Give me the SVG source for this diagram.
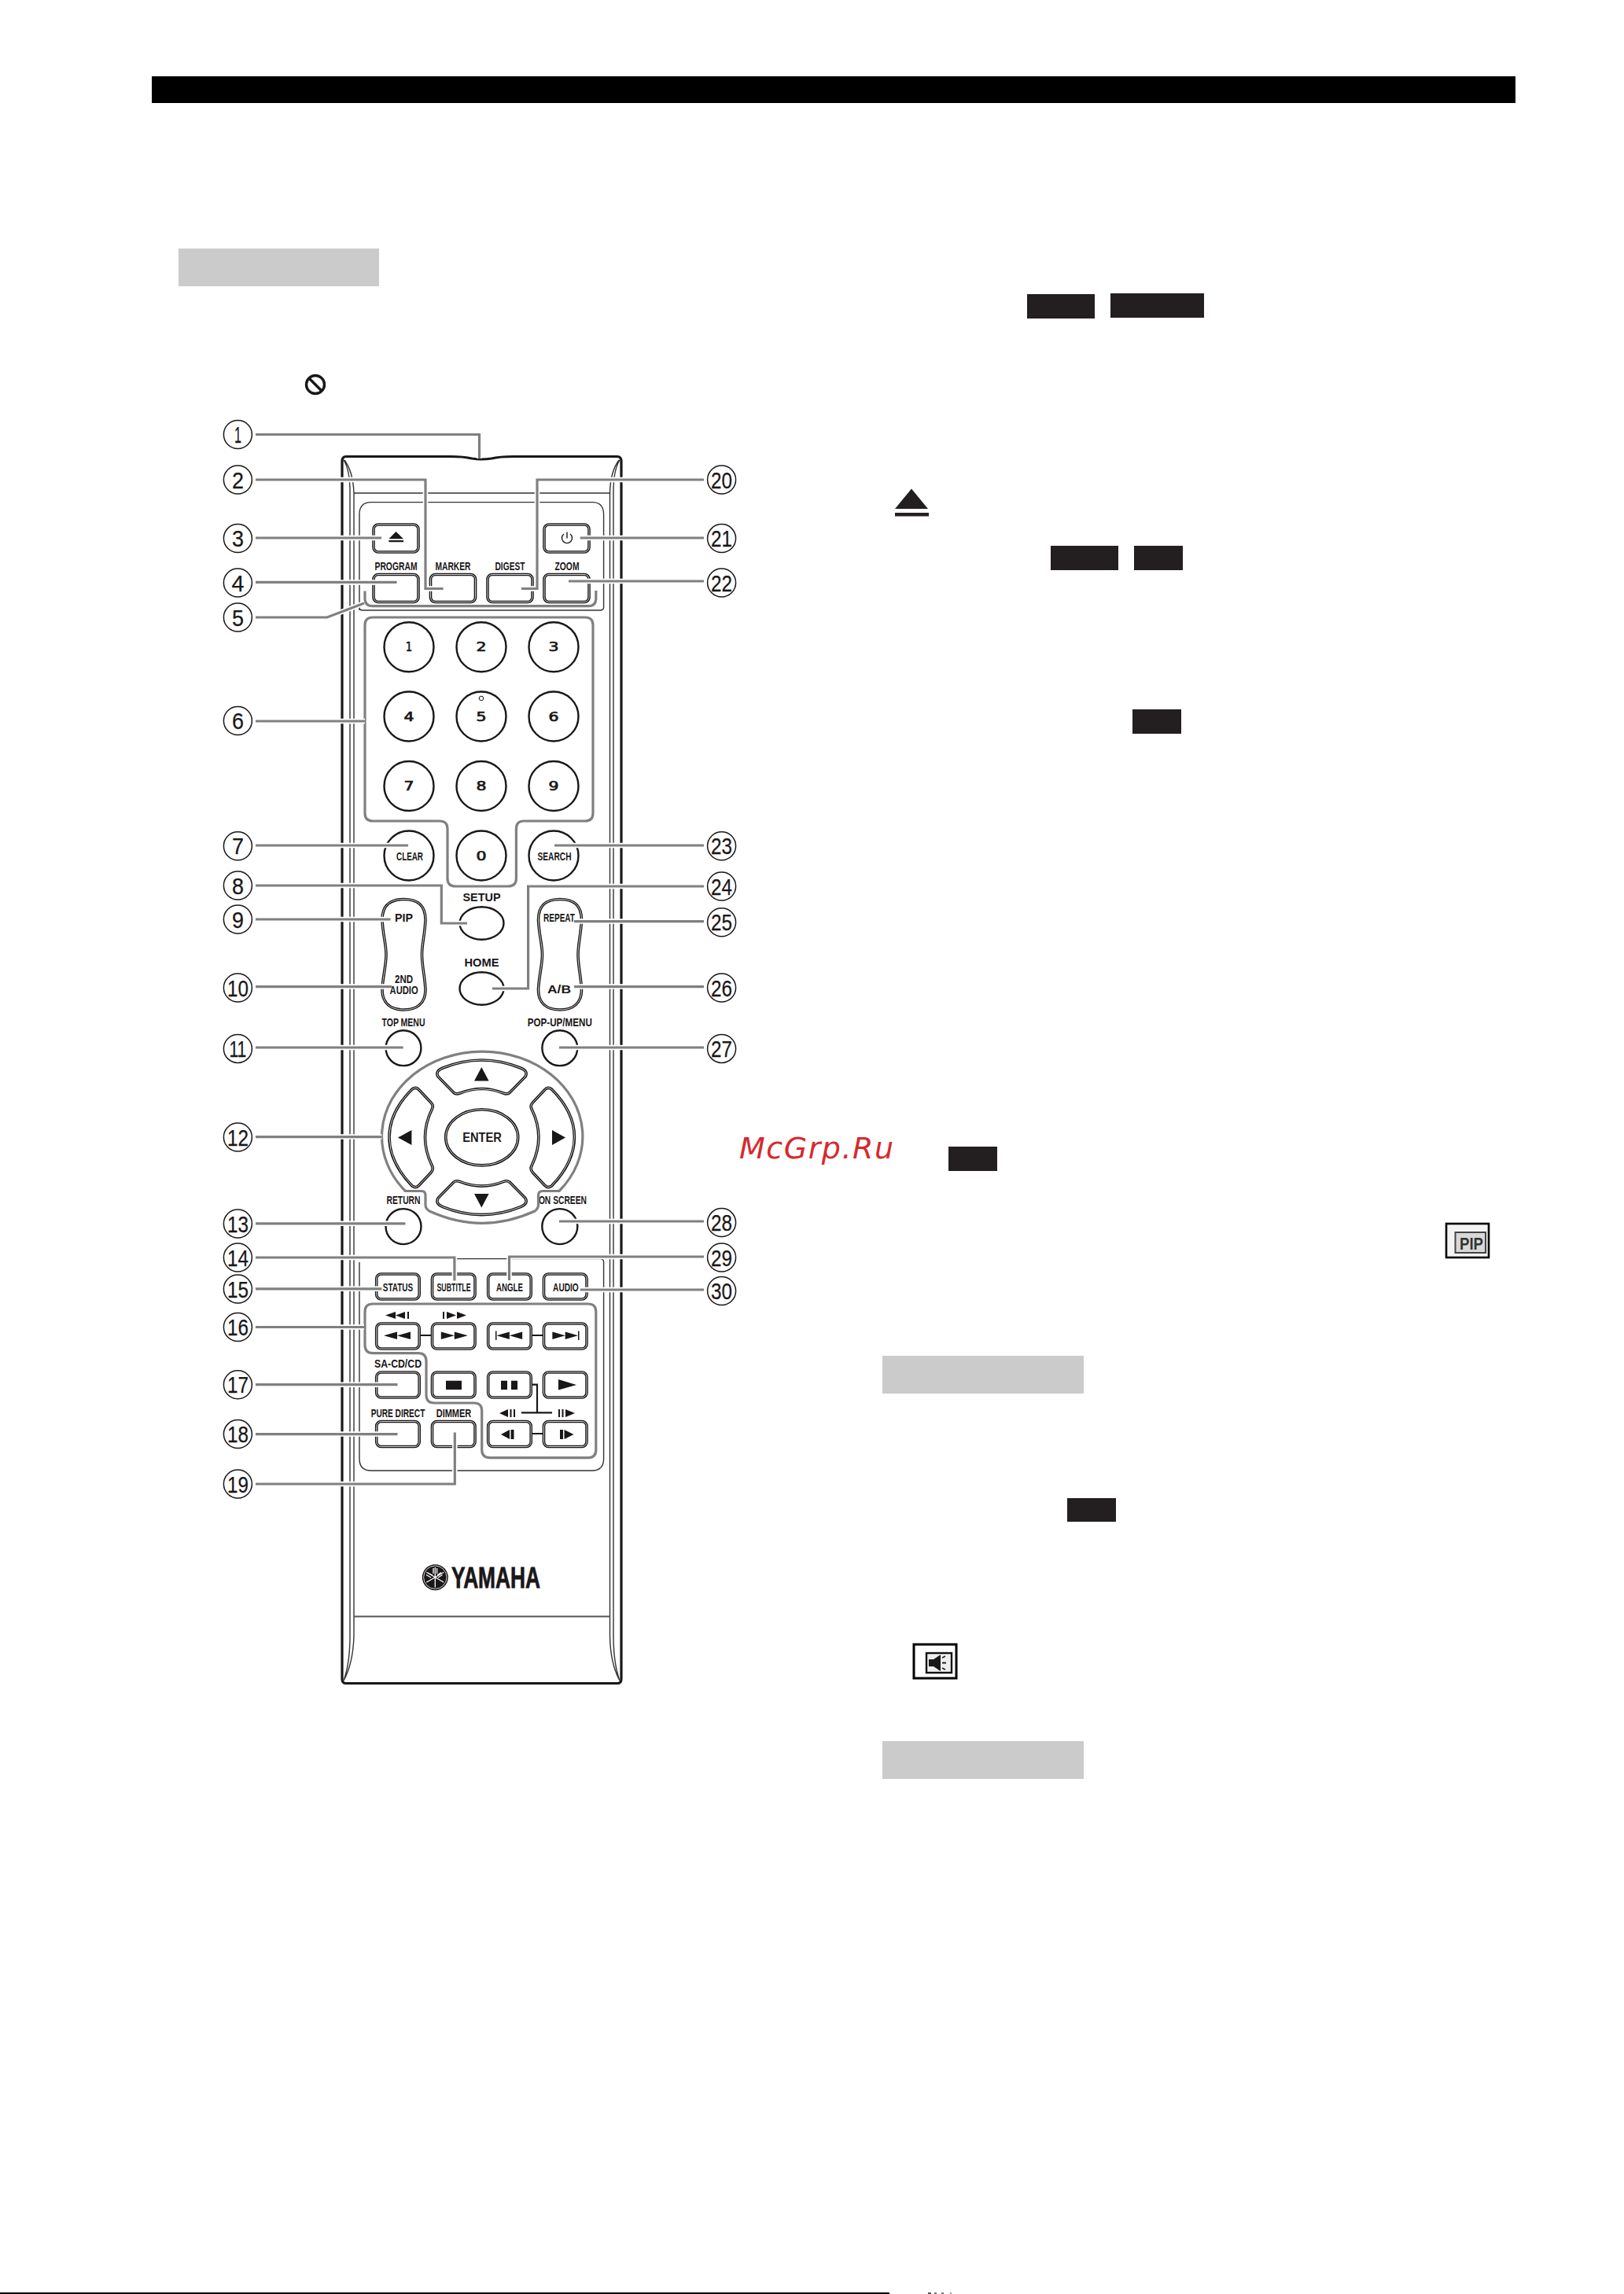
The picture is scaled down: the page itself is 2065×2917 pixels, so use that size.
<svg xmlns="http://www.w3.org/2000/svg" xmlns:xlink="http://www.w3.org/1999/xlink" width="2065" height="2917" viewBox="0 0 2065 2917">
<style>
text{fill:#1a1718}
.n{font-family:"Liberation Sans Narrow","Liberation Sans",sans-serif;font-weight:bold;font-size:15px;text-anchor:middle}
.a{font-family:"Liberation Sans",Arial,sans-serif;font-weight:bold;font-size:15px;text-anchor:middle}
.d{font-family:"DejaVu Sans",sans-serif;font-size:15px;text-anchor:middle;stroke:#1a1718;stroke-width:.7}
.c{font-family:"Liberation Sans Narrow","Liberation Sans",sans-serif;font-size:30px;text-anchor:middle;stroke:#1a1718;stroke-width:.25}
.cc{fill:#fff;stroke:#1a1718;stroke-width:1.5}
.o{fill:none;stroke:#1a1718;stroke-width:3.6}
.i{fill:none;stroke:#fff;stroke-width:.8}
.s{fill:#fff;stroke:#1a1718;stroke-width:2.4}
.g{fill:none;stroke:#808080;stroke-width:3.2;stroke-linejoin:round}
.thin{fill:none;stroke:#333;stroke-width:1.4}
.k{fill:#1a1718}
.blk{fill:#231f20}
.gr{fill:#cbcbcb}
.halo{fill:none;stroke:#fff;stroke-width:6.5}
.lead{fill:none;stroke:#808080;stroke-width:3.2;stroke-linejoin:miter}
.con{fill:none;stroke:#1a1718;stroke-width:2.2}
</style>
<defs>
<g id="kw"><rect width="57" height="35" rx="6" class="o"/><rect width="57" height="35" rx="6" class="i"/></g>
<g id="kn"><rect width="54.5" height="32" rx="6" class="o"/><rect width="54.5" height="32" rx="6" class="i"/></g>
<path id="shUp" d="M563,1358 Q612.7,1338 662,1358 Q672,1362 668,1369 L648,1389.5 Q645,1392 640,1390 Q612.7,1379 585,1390 Q580,1392 577,1389.5 L557,1369 Q553,1362 563,1358 Z"/>
<path id="shLeft" d="M524,1385 Q529,1381 533,1386 L548,1402 Q552,1406 549,1411 Q532,1446 549,1481.500 Q552,1486.500 548,1491 L533,1507 Q529,1511.500 524,1508 Q495,1478 495,1446 Q495,1414 524,1385 Z"/>
<path id="shPill" d="M513.5,1143.500 C530,1143.500 541,1150 541,1170 C540,1190 536.500,1200 536.500,1214 C536.500,1228 540,1240 541,1258 C541,1276 530,1284 513.500,1284 C497,1284 486,1276 486,1258 C487,1240 491,1228 491,1214 C491,1200 487,1190 486,1170 C486,1150 497,1143.500 513.500,1143.500 Z"/>
<path id="tri2" d="M0,4.800 L17,0 V9.600 Z M17,4.800 L34,0 V9.600 Z"/>
</defs>

<rect width="2065" height="2917" fill="#fff"/>
<g id="page">
<rect x="193" y="97" width="1734" height="34" fill="#000"/>
<rect x="0" y="2915" width="1131" height="2" fill="#000"/>
<rect x="1180" y="2915" width="4" height="2" fill="#555"/><rect x="1188" y="2915" width="3" height="2" fill="#777"/><rect x="1197" y="2915" width="3" height="2" fill="#777"/><rect x="1208" y="2915" width="2" height="2" fill="#999"/>
<rect class="gr" x="227" y="316" width="255" height="48"/>
<rect class="gr" x="1122" y="1724" width="256" height="48"/>
<rect class="gr" x="1122" y="2214" width="256" height="48"/>
<rect class="blk" x="1306" y="374" width="86" height="31"/>
<rect class="blk" x="1412" y="373" width="119" height="31"/>
<rect class="blk" x="1336" y="694" width="86" height="31"/>
<rect class="blk" x="1442" y="694" width="62" height="31"/>
<rect class="blk" x="1440" y="902" width="62" height="31"/>
<rect class="blk" x="1206" y="1458" width="62" height="31"/>
<rect class="blk" x="1357" y="1905" width="62" height="30"/>
<g id="no-symbol"><circle cx="401" cy="489" r="11.500" fill="none" stroke="#1a1718" stroke-width="3.400"/><path d="M393,481 L409,497" stroke="#1a1718" stroke-width="3.400"/></g>
<g id="eject-symbol"><path class="blk" d="M1159,621.500 L1180,647 H1138 Z"/><rect class="blk" x="1138" y="652" width="43" height="4.500"/></g>
<g id="pip-icon"><rect x="1839" y="1556" width="54" height="43" fill="#f4f4f4" stroke="#000" stroke-width="2.600"/><rect x="1850.500" y="1567" width="38.500" height="26" fill="#d8d8d8" stroke="#444" stroke-width="2"/><text x="1871" y="1589" font-family="Liberation Sans,sans-serif" font-weight="bold" font-size="22" text-anchor="middle" textLength="30" lengthAdjust="spacingAndGlyphs" style="fill:#333">PIP</text></g>
<g id="audio-icon"><rect x="1162" y="2091" width="54" height="43" fill="#fff" stroke="#000" stroke-width="3"/><rect x="1178" y="2102" width="32" height="25" fill="#eee" stroke="#111" stroke-width="2.400"/><path class="k" d="M1181,2110 H1187 L1196,2104 V2125 L1187,2119 H1181 Z"/><path d="M1198,2108 l4,-2 M1198,2114.500 h5 M1198,2121 l4,2" stroke="#222" stroke-width="1.800"/></g>
<text x="940" y="1473" font-family="DejaVu Sans,sans-serif" font-style="italic" font-size="38" textLength="196" lengthAdjust="spacing" style="fill:#d8282e">McGrp.Ru</text>
</g>

<g id="remote-body">
<path d="M440,580.500 H572 Q590,580.500 600,583 Q612,585 625,583 Q635,580.500 653,580.500 H785 Q790,580.500 790,587 V2135 Q790,2140.500 785,2140.500 H440 Q435,2140.500 435,2135 V587 Q435,580.500 440,580.500 Z" fill="#fff" stroke="#1a1718" stroke-width="3.200"/>
<path class="thin" d="M437,585 Q445,598 445,625 V2080 Q445,2115 437,2137 M438,585 Q449,600 450,627 V2080 Q449,2115 437,2137"/>
<path class="thin" d="M788,585 Q780,598 780,625 V2080 Q780,2115 788,2137 M787,585 Q776,600 775.500,627 V2080 Q776,2115 788,2137"/>
<path class="thin" d="M450,627 H775.500"/>
<path d="M450,2055.500 H775.500" fill="none" stroke="#555" stroke-width="2"/>
<path class="thin" d="M457,776 V654 Q457,638.600 472,638.600 H753 Q767.600,638.600 767.600,654 V772 Q767.600,776 763,776 H461 Q457,776 457,772"/>
<path class="thin" d="M457,1605 V1855 Q457,1870 472,1870 H753 Q767.600,1870 767.600,1855 V1605 Q767.600,1600.600 763,1600.600 H581"/>
</g>

<g id="btn-eject"><use href="#kw" x="475" y="667"/><path class="k" d="M503.500,676 L513,685.300 H494.400 Z M494.400,687 H513 V689.300 H494.400 Z"/></g>
<g id="btn-power"><use href="#kw" x="692" y="667"/><path d="M717,679 A6.500,6.500 0 1 0 725,679 M721,676.500 V684.500" fill="none" stroke="#1a1718" stroke-width="1.400"/></g>
<g id="btn-program"><use href="#kw" x="475" y="730.500"/><text class="n" x="503.500" y="725" textLength="54" lengthAdjust="spacingAndGlyphs">PROGRAM</text></g>
<g id="btn-marker"><use href="#kw" x="547.500" y="730.500"/><text class="n" x="576" y="725" textLength="45" lengthAdjust="spacingAndGlyphs">MARKER</text></g>
<g id="btn-digest"><use href="#kw" x="620" y="730.500"/><text class="n" x="648.500" y="725" textLength="38" lengthAdjust="spacingAndGlyphs">DIGEST</text></g>
<g id="btn-zoom"><use href="#kw" x="692" y="730.500"/><text class="n" x="721" y="725" textLength="31" lengthAdjust="spacingAndGlyphs">ZOOM</text></g>

<g id="keypad">
<circle class="s" cx="520" cy="822.700" r="31.500"/><text class="d" x="520" y="828" textLength="8" lengthAdjust="spacingAndGlyphs">1</text>
<circle class="s" cx="612" cy="822.700" r="31.500"/><text class="d" x="612" y="828" textLength="13" lengthAdjust="spacingAndGlyphs">2</text>
<circle class="s" cx="704" cy="822.700" r="31.500"/><text class="d" x="704" y="828" textLength="13" lengthAdjust="spacingAndGlyphs">3</text>
<circle class="s" cx="520" cy="911" r="31.500"/><text class="d" x="520" y="916.500" textLength="13" lengthAdjust="spacingAndGlyphs">4</text>
<circle class="s" cx="612" cy="911" r="31.500"/><text class="d" x="612" y="916.500" textLength="13" lengthAdjust="spacingAndGlyphs">5</text>
<circle cx="612" cy="888" r="2.800" fill="#fff" stroke="#1a1718" stroke-width="1"/>
<circle class="s" cx="704" cy="911" r="31.500"/><text class="d" x="704" y="916.500" textLength="13" lengthAdjust="spacingAndGlyphs">6</text>
<circle class="s" cx="520" cy="999.500" r="31.500"/><text class="d" x="520" y="1005" textLength="13" lengthAdjust="spacingAndGlyphs">7</text>
<circle class="s" cx="612" cy="999.500" r="31.500"/><text class="d" x="612" y="1005" textLength="13" lengthAdjust="spacingAndGlyphs">8</text>
<circle class="s" cx="704" cy="999.500" r="31.500"/><text class="d" x="704" y="1005" textLength="13" lengthAdjust="spacingAndGlyphs">9</text>
<circle class="s" cx="612" cy="1088" r="31.500"/><text class="d" x="612" y="1093.500" textLength="13" lengthAdjust="spacingAndGlyphs">0</text>
</g>
<g id="btn-clear"><circle class="s" cx="520" cy="1088" r="31.500"/><text class="n" x="521" y="1094" textLength="34" lengthAdjust="spacingAndGlyphs">CLEAR</text></g>
<g id="btn-search"><circle class="s" cx="704" cy="1088" r="31.500"/><text class="n" x="705" y="1094" textLength="43" lengthAdjust="spacingAndGlyphs">SEARCH</text></g>
<g id="btn-setup"><text class="a" x="612.500" y="1146" textLength="48" lengthAdjust="spacingAndGlyphs">SETUP</text><ellipse class="s" cx="612.500" cy="1174" rx="28" ry="20.700"/></g>
<g id="btn-home"><text class="a" x="612.500" y="1229" textLength="44" lengthAdjust="spacingAndGlyphs">HOME</text><ellipse class="s" cx="612.500" cy="1257" rx="28" ry="20.700"/></g>
<g id="btn-pip"><use href="#shPill" class="o"/><use href="#shPill" class="i"/><text class="a" x="513.600" y="1172" textLength="23" lengthAdjust="spacingAndGlyphs">PIP</text><text class="n" x="513.600" y="1250" textLength="23" lengthAdjust="spacingAndGlyphs">2ND</text><text class="n" x="513.600" y="1264" textLength="36" lengthAdjust="spacingAndGlyphs">AUDIO</text></g>
<g id="btn-repeat"><use href="#shPill" x="198.500" class="o"/><use href="#shPill" x="198.500" class="i"/><text class="n" x="711" y="1172" textLength="40" lengthAdjust="spacingAndGlyphs">REPEAT</text><text class="a" x="711" y="1263.400" textLength="30" lengthAdjust="spacingAndGlyphs">A/B</text></g>
<g id="btn-topmenu"><text class="n" x="513" y="1304.700" textLength="55" lengthAdjust="spacingAndGlyphs">TOP MENU</text><circle class="s" cx="513" cy="1332.700" r="22.400"/></g>
<g id="btn-popup"><text class="n" x="711.800" y="1304.700" textLength="82" lengthAdjust="spacingAndGlyphs">POP-UP/MENU</text><circle class="s" cx="711.800" cy="1332.700" r="22.400"/></g>
<g id="btn-return"><text class="n" x="513" y="1531.300" textLength="43" lengthAdjust="spacingAndGlyphs">RETURN</text><circle class="s" cx="513" cy="1559.600" r="22.500"/></g>
<g id="btn-onscreen"><text class="n" x="715.400" y="1531.300" textLength="61" lengthAdjust="spacingAndGlyphs">ON SCREEN</text><circle class="s" cx="711.800" cy="1559.600" r="22.500"/></g>

<g id="dpad">
<path id="bracket-12" class="g" d="M515.400,1514.500 H536 Q541,1514.500 541,1520 V1532 Q541,1537 546,1540 Q580,1555.400 612.700,1555.400 Q646,1555.400 680,1540 Q684.500,1537 684.500,1532 V1520 Q684.500,1514.500 690,1514.500 H711 A127.700,108 0 1 0 515.400,1514.500 Z"/>
<use href="#shUp" class="o"/><use href="#shUp" class="i"/>
<g transform="translate(0 2892.600) scale(1 -1)"><use href="#shUp" class="o"/><use href="#shUp" class="i"/></g>
<use href="#shLeft" class="o"/><use href="#shLeft" class="i"/>
<g transform="translate(1225.400 0) scale(-1 1)"><use href="#shLeft" class="o"/><use href="#shLeft" class="i"/></g>
<ellipse class="o" cx="612.700" cy="1446.300" rx="46" ry="35.600"/><ellipse class="i" cx="612.700" cy="1446.300" rx="46" ry="35.600"/>
<text class="a" x="613" y="1452" style="font-size:16px" textLength="49.500" lengthAdjust="spacingAndGlyphs">ENTER</text>
<path class="k" d="M612.300,1357 L621.600,1374.400 H603 Z M612.300,1535.500 L621.600,1518 H603 Z M506,1446.500 L523.400,1437 V1456 Z M719,1446.500 L702,1437 V1456 Z"/>
</g>

<g id="btn-status"><use href="#kn" x="478.700" y="1620"/><text class="n" x="506" y="1641.800" textLength="38.400" lengthAdjust="spacingAndGlyphs">STATUS</text></g>
<g id="btn-subtitle"><use href="#kn" x="549.500" y="1620"/><text class="n" x="577" y="1641.800" textLength="43" lengthAdjust="spacingAndGlyphs">SUBTITLE</text></g>
<g id="btn-angle"><use href="#kn" x="620.700" y="1620"/><text class="n" x="648" y="1641.800" textLength="34" lengthAdjust="spacingAndGlyphs">ANGLE</text></g>
<g id="btn-audio"><use href="#kn" x="691.500" y="1620"/><text class="n" x="719.400" y="1641.800" textLength="32.600" lengthAdjust="spacingAndGlyphs">AUDIO</text></g>

<g id="transport">
<path class="con" d="M533,1698 H549.500 M675,1698 H691.500 M675,1823 H691.500 M675,1760.700 H683 V1796.400 M663,1796.400 H702"/>
<g id="btn-rev"><use href="#kn" x="478.700" y="1683"/><use href="#tri2" class="k" transform="translate(488 1693.500)"/></g>
<g id="btn-fwd"><use href="#kn" x="549.500" y="1683"/><use href="#tri2" class="k" transform="translate(594.800 1693.500) scale(-1 1)"/></g>
<g id="btn-prev"><use href="#kn" x="620.700" y="1683"/><use href="#tri2" class="k" transform="translate(631.500 1693.500) scale(.96 1)"/><rect class="k" x="630" y="1692.500" width="1.500" height="11.500"/></g>
<g id="btn-next"><use href="#kn" x="691.500" y="1683"/><use href="#tri2" class="k" transform="translate(735 1693.500) scale(-.96 1)"/><rect class="k" x="735" y="1692.500" width="1.500" height="11.500"/></g>
<path class="k" d="M490,1672.500 L503,1668 V1677 Z M503,1672.500 L515,1668 V1677 Z M518,1668 H520 V1677 H518 Z"/>
<path class="k" d="M563,1668 H565 V1677 H563 Z M568,1668 L580,1672.500 L568,1677 Z M581,1668 L593,1672.500 L581,1677 Z"/>
<g id="btn-sacd"><use href="#kn" x="478.700" y="1745"/><text class="n" x="506" y="1739" textLength="60" lengthAdjust="spacingAndGlyphs">SA-CD/CD</text></g>
<g id="btn-stop"><use href="#kn" x="549.500" y="1745"/><rect class="k" x="567" y="1755.700" width="20" height="11.300"/></g>
<g id="btn-pause"><use href="#kn" x="620.700" y="1745"/><rect class="k" x="637" y="1755.700" width="8" height="11.300"/><rect class="k" x="650" y="1755.700" width="8" height="11.300"/></g>
<g id="btn-play"><use href="#kn" x="691.500" y="1745"/><path class="k" d="M710,1754 L733,1761 L710,1767.500 Z"/></g>
<g id="btn-pure"><use href="#kn" x="478.700" y="1807.500"/><text class="n" x="506" y="1801.800" textLength="68.700" lengthAdjust="spacingAndGlyphs">PURE DIRECT</text></g>
<g id="btn-dimmer"><use href="#kn" x="549.500" y="1807.500"/><text class="n" x="577" y="1801.800" textLength="44.600" lengthAdjust="spacingAndGlyphs">DIMMER</text></g>
<g id="btn-slowrev"><use href="#kn" x="620.700" y="1807.500"/><path class="k" d="M637,1824 L648,1818 V1830 Z M649.500,1818 H653.500 V1830 H649.500 Z"/></g>
<g id="btn-slowfwd"><use href="#kn" x="691.500" y="1807.500"/><path class="k" d="M712,1818 H716 V1830 H712 Z M717.500,1818 L729.500,1824 L717.500,1830 Z"/></g>
<path class="k" d="M635,1797 L646,1792 V1802 Z M648.500,1792 H650.500 V1802 H648.500 Z M653,1792 H655 V1802 H653 Z"/>
<path class="k" d="M710,1792 H712 V1802 H710 Z M714.500,1792 H716.500 V1802 H714.500 Z M719,1792 L731,1797 L719,1802 Z"/>
</g>

<g id="logo">
<circle cx="553.300" cy="2005.700" r="16.500" fill="#1a1718"/><circle cx="553.300" cy="2005.700" r="14.700" fill="none" stroke="#fff" stroke-width=".8"/>
<path d="M553.300,1993 V2018.500 M542.300,1999.300 L564.300,2012 M542.300,2012 L564.300,1999.300 M551,1994 V2001 M555.600,1994 V2001 M542,2002.500 L548,2006 M544,2000 L550,2003 M562.500,2002.500 L557,2006 M561,1999.500 L556,2003" stroke="#fff" stroke-width="1.300" fill="none"/>
<text x="574" y="2019.300" font-family="Liberation Sans,sans-serif" font-weight="bold" font-size="37" textLength="113" lengthAdjust="spacingAndGlyphs" stroke="#1a1718" stroke-width=".8">YAMAHA</text>
</g>

<g id="brackets">
<path id="bracket-5" class="g" d="M464,751.500 V761 Q464,770.700 474,770.700 H748 Q757.800,770.700 757.800,761 V751"/>
<path id="bracket-6" class="g" d="M474,785 H744 Q754,785 754,795 V1034 Q754,1044 744,1044 H666 Q656.400,1044 656.400,1054 V1117 Q656.400,1127 646,1127 H579 Q569,1127 569,1117 V1054 Q569,1044 559,1044 H474 Q464,1044 464,1034 V795 Q464,785 474,785 Z"/>
<path id="bracket-16" class="g" d="M474,1658 H748 Q757.800,1658 757.800,1668 V1843.600 Q757.800,1853.600 748,1853.600 H623 Q612.700,1853.600 612.700,1843.600 V1794 Q612.700,1784 603,1784 H552 Q542,1784 542,1774 V1731 Q542,1720.700 532,1720.700 H474 Q464,1720.700 464,1710 V1668 Q464,1658 474,1658 Z"/>
</g>

<g class="halo"><use href="#lines"/></g>
<g id="connectors" class="lead"><g id="lines">
<path d="M325,552.500 H609.500 V583"/>
<path d="M325,610 H541 V748.500 H563.600"/>
<path d="M325,684 H485"/>
<path d="M325,740.400 H504.600"/>
<path d="M325,785 H416 L463,767"/>
<path d="M325,917 H464"/>
<path d="M325,1075 H519"/>
<path d="M325,1126 H561.300 V1174 H594"/>
<path d="M325,1169 H496.600"/>
<path d="M325,1254.600 H498"/>
<path d="M325,1332 H512.700"/>
<path d="M325,1445.600 H485.400"/>
<path d="M325,1555.800 H515.400"/>
<path d="M325,1599 H577.900 V1628.600"/>
<path d="M325,1638.800 H485.400"/>
<path d="M325,1687.500 H463"/>
<path d="M325,1760.700 H505.500"/>
<path d="M325,1823.600 H505.500"/>
<path d="M325,1887 H578.300 V1821.400"/>
<path d="M895,610 H683 V748.500 H663"/>
<path d="M895,684 H737.700"/>
<path d="M895,739 H723"/>
<path d="M895,1075 H705"/>
<path d="M895,1127 H671.600 V1257 H626"/>
<path d="M895,1171.600 H730"/>
<path d="M895,1254.600 H730"/>
<path d="M895,1332 H711"/>
<path d="M895,1553 H711"/>
<path d="M895,1598 H647.500 V1628"/>
<path d="M895,1640 H737.700"/>
</g></g>

<g id="node-1"><circle class="cc" cx="302.400" cy="552.500" r="18"/><text class="c" x="302.400" y="563" textLength="9" lengthAdjust="spacingAndGlyphs">1</text></g>
<g id="node-2"><circle class="cc" cx="302.400" cy="610" r="18"/><text class="c" x="302.400" y="620.500" textLength="15" lengthAdjust="spacingAndGlyphs">2</text></g>
<g id="node-3"><circle class="cc" cx="302.400" cy="684.600" r="18"/><text class="c" x="302.400" y="695" textLength="15" lengthAdjust="spacingAndGlyphs">3</text></g>
<g id="node-4"><circle class="cc" cx="302.400" cy="741" r="18"/><text class="c" x="302.400" y="751.500" textLength="16" lengthAdjust="spacingAndGlyphs">4</text></g>
<g id="node-5"><circle class="cc" cx="302.400" cy="785" r="18"/><text class="c" x="302.400" y="795.500" textLength="15" lengthAdjust="spacingAndGlyphs">5</text></g>
<g id="node-6"><circle class="cc" cx="302.400" cy="916.500" r="18"/><text class="c" x="302.400" y="927" textLength="15" lengthAdjust="spacingAndGlyphs">6</text></g>
<g id="node-7"><circle class="cc" cx="302.400" cy="1075.700" r="18"/><text class="c" x="302.400" y="1086" textLength="15" lengthAdjust="spacingAndGlyphs">7</text></g>
<g id="node-8"><circle class="cc" cx="302.400" cy="1126" r="18"/><text class="c" x="302.400" y="1136.500" textLength="15" lengthAdjust="spacingAndGlyphs">8</text></g>
<g id="node-9"><circle class="cc" cx="302.400" cy="1169" r="18"/><text class="c" x="302.400" y="1179.500" textLength="15" lengthAdjust="spacingAndGlyphs">9</text></g>
<g id="node-10"><circle class="cc" cx="302.400" cy="1256" r="18"/><text class="c" x="302.400" y="1266.500" textLength="27" lengthAdjust="spacingAndGlyphs">10</text></g>
<g id="node-11"><circle class="cc" cx="302.400" cy="1333.400" r="18"/><text class="c" x="302.400" y="1344" textLength="22" lengthAdjust="spacingAndGlyphs">11</text></g>
<g id="node-12"><circle class="cc" cx="302.400" cy="1446" r="18"/><text class="c" x="302.400" y="1456.500" textLength="27" lengthAdjust="spacingAndGlyphs">12</text></g>
<g id="node-13"><circle class="cc" cx="302.400" cy="1556" r="18"/><text class="c" x="302.400" y="1566.500" textLength="27" lengthAdjust="spacingAndGlyphs">13</text></g>
<g id="node-14"><circle class="cc" cx="302.400" cy="1599" r="18"/><text class="c" x="302.400" y="1609.500" textLength="27" lengthAdjust="spacingAndGlyphs">14</text></g>
<g id="node-15"><circle class="cc" cx="302.400" cy="1639" r="18"/><text class="c" x="302.400" y="1649.500" textLength="27" lengthAdjust="spacingAndGlyphs">15</text></g>
<g id="node-16"><circle class="cc" cx="302.400" cy="1687.500" r="18"/><text class="c" x="302.400" y="1698" textLength="27" lengthAdjust="spacingAndGlyphs">16</text></g>
<g id="node-17"><circle class="cc" cx="302.400" cy="1760.700" r="18"/><text class="c" x="302.400" y="1771" textLength="27" lengthAdjust="spacingAndGlyphs">17</text></g>
<g id="node-18"><circle class="cc" cx="302.400" cy="1823.600" r="18"/><text class="c" x="302.400" y="1834" textLength="27" lengthAdjust="spacingAndGlyphs">18</text></g>
<g id="node-19"><circle class="cc" cx="302.400" cy="1887" r="18"/><text class="c" x="302.400" y="1897.500" textLength="27" lengthAdjust="spacingAndGlyphs">19</text></g>
<g id="node-20"><circle class="cc" cx="917.600" cy="610" r="18"/><text class="c" x="917.600" y="620.500" textLength="27" lengthAdjust="spacingAndGlyphs">20</text></g>
<g id="node-21"><circle class="cc" cx="917.600" cy="684.600" r="18"/><text class="c" x="917.600" y="695" textLength="27" lengthAdjust="spacingAndGlyphs">21</text></g>
<g id="node-22"><circle class="cc" cx="917.600" cy="741" r="18"/><text class="c" x="917.600" y="751.500" textLength="27" lengthAdjust="spacingAndGlyphs">22</text></g>
<g id="node-23"><circle class="cc" cx="917.600" cy="1075.700" r="18"/><text class="c" x="917.600" y="1086" textLength="27" lengthAdjust="spacingAndGlyphs">23</text></g>
<g id="node-24"><circle class="cc" cx="917.600" cy="1127" r="18"/><text class="c" x="917.600" y="1137.500" textLength="27" lengthAdjust="spacingAndGlyphs">24</text></g>
<g id="node-25"><circle class="cc" cx="917.600" cy="1172.700" r="18"/><text class="c" x="917.600" y="1183" textLength="27" lengthAdjust="spacingAndGlyphs">25</text></g>
<g id="node-26"><circle class="cc" cx="917.600" cy="1256" r="18"/><text class="c" x="917.600" y="1266.500" textLength="27" lengthAdjust="spacingAndGlyphs">26</text></g>
<g id="node-27"><circle class="cc" cx="917.600" cy="1333.400" r="18"/><text class="c" x="917.600" y="1344" textLength="27" lengthAdjust="spacingAndGlyphs">27</text></g>
<g id="node-28"><circle class="cc" cx="917.600" cy="1554.600" r="18"/><text class="c" x="917.600" y="1565" textLength="27" lengthAdjust="spacingAndGlyphs">28</text></g>
<g id="node-29"><circle class="cc" cx="917.600" cy="1599" r="18"/><text class="c" x="917.600" y="1609.500" textLength="27" lengthAdjust="spacingAndGlyphs">29</text></g>
<g id="node-30"><circle class="cc" cx="917.600" cy="1641.500" r="18"/><text class="c" x="917.600" y="1652" textLength="27" lengthAdjust="spacingAndGlyphs">30</text></g>
</svg>
